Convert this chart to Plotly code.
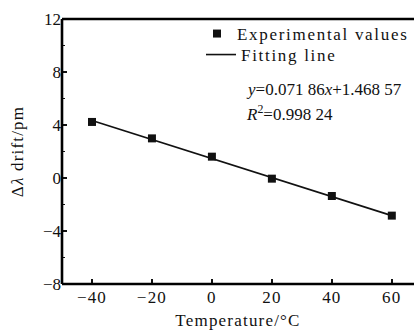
import plotly.graph_objects as go

temperature = [-40, -20, 0, 20, 40, 60]
drift = [4.23, 2.99, 1.61, -0.05, -1.36, -2.84]
fit_x = [-40, 60]
fit_y = [4.34, -2.84]
x_ticks = [-40, -20, 0, 20, 40, 60]
y_ticks = [-8, -4, 0, 4, 8, 12]

FONT = "Liberation Serif, Times New Roman, serif"
INK = "#111111"
SP = "letter-spacing:1.2px"
SP_LEG = "letter-spacing:1.7px"

PLOT_L, PLOT_T, PLOT_B = 62, 19, 284


def py(v):
    return (PLOT_B - v) / (PLOT_B - PLOT_T)


def px(v):
    return (v - PLOT_L) / (414 - PLOT_L)


fig = go.Figure()
fig.add_trace(go.Scatter(
    x=fit_x, y=fit_y, mode="lines",
    name=f'<span style="{SP_LEG}">Fitting line</span>',
    line=dict(color=INK, width=1.6), legend="legend2",
))
fig.add_trace(go.Scatter(
    x=temperature, y=drift, mode="markers",
    name=f'<span style="{SP_LEG}">Experimental values</span>',
    marker=dict(symbol="square", size=8, color=INK), legend="legend",
))

axis_common = dict(
    showline=False, ticks="inside",
    tickcolor=INK, tickwidth=1.5, ticklen=5, showgrid=False, zeroline=False,
    tickfont=dict(family=FONT, size=17, color=INK),
)
leg_common = dict(
    yanchor="top", bgcolor="rgba(0,0,0,0)", borderwidth=0,
    font=dict(family=FONT, size=17, color=INK), itemwidth=30,
)

fig.update_layout(
    width=414, height=330,
    margin=dict(l=PLOT_L, r=0, t=PLOT_T, b=330 - PLOT_B, autoexpand=False),
    paper_bgcolor="white", plot_bgcolor="white",
    font=dict(family=FONT, size=17, color=INK),
    showlegend=True,
    legend=dict(x=1.0, xanchor="right", y=py(16), **leg_common),
    legend2=dict(x=px(201), xanchor="left", y=py(37), **leg_common),
    xaxis=dict(
        range=[-50, 67.4], tickvals=x_ticks,
        ticktext=[f'<span style="{SP}">{str(v).replace("-", "\u2212")}</span>' for v in x_ticks],
        ticklabelstandoff=1,
        title=dict(text=f'<span style="{SP}">Temperature/°C</span>',
                   font=dict(family=FONT, size=17, color=INK), standoff=8),
        **axis_common,
    ),
    yaxis=dict(
        range=[-8, 12], tickvals=y_ticks,
        ticktext=[str(v).replace("-", "\u2212") for v in y_ticks],
        minor=dict(dtick=2, ticks="inside", ticklen=3, tickcolor=INK, tickwidth=1.2),
        title=dict(text=f'<span style="{SP}">Δ<i>λ</i> drift/pm</span>',
                   font=dict(family=FONT, size=17, color=INK), standoff=14),
        **axis_common,
    ),
)

# plot frame: top, left and bottom edges (right edge not shown in the reference)
for x0, x1, y0, y1 in [(0, 1, 1, 1), (0, 0, 0, 1), (0, 1, 0, 0)]:
    fig.add_shape(type="line", xref="paper", yref="paper",
                  x0=x0, x1=x1, y0=y0, y1=y1,
                  line=dict(color="#000000", width=2.6), layer="above")

fig.add_annotation(
    xref="paper", yref="paper", x=px(244), y=py(89),
    xanchor="left", yanchor="middle", showarrow=False,
    text="<i>y</i>=0.071 86<i>x</i>+1.468 57",
    font=dict(family=FONT, size=17, color=INK),
)
fig.add_annotation(
    xref="paper", yref="paper", x=px(244), y=py(113),
    xanchor="left", yanchor="middle", showarrow=False,
    text="<i>R</i><sup>2</sup>=0.998 24",
    font=dict(family=FONT, size=17, color=INK),
)

fig.write_html("out.html", config={"displayModeBar": False},
               post_script="document.body.style.margin='0';")
